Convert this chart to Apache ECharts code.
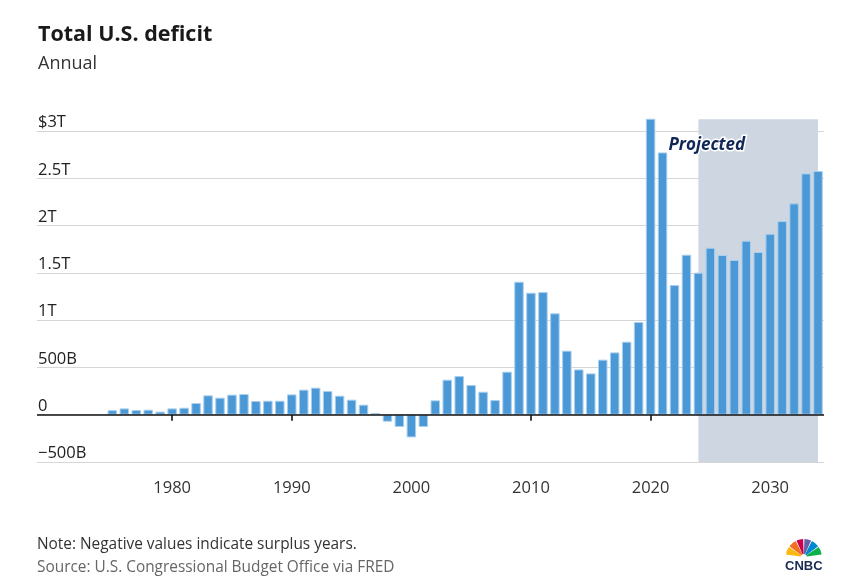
<!DOCTYPE html>
<html>
<head>
<meta charset="utf-8">
<script src="https://cdn.jsdelivr.net/npm/echarts@6/dist/echarts.min.js"></script>
<style>
  html, body { margin: 0; padding: 0; background: #fff; }
  #chart { width: 856px; height: 588px; }
</style>
</head>
<body>
<div id="chart"></div>
<script>
// ---- Data (billions of US dollars) ----
const years = [
  1975, 1976, 1977, 1978, 1979, 1980, 1981, 1982, 1983, 1984,
  1985, 1986, 1987, 1988, 1989, 1990, 1991, 1992, 1993, 1994,
  1995, 1996, 1997, 1998, 1999, 2000, 2001, 2002, 2003, 2004,
  2005, 2006, 2007, 2008, 2009, 2010, 2011, 2012, 2013, 2014,
  2015, 2016, 2017, 2018, 2019, 2020, 2021, 2022, 2023, 2024,
  2025, 2026, 2027, 2028, 2029, 2030, 2031, 2032, 2033, 2034
];
const deficit = [
  48, 67, 50, 53, 33, 67, 74, 124, 205, 180,
  212, 219, 145, 148, 148, 215, 265, 286, 250, 201,
  159, 106, 18, -74, -130, -240, -130, 152, 370, 409,
  314, 243, 155, 455, 1406, 1290, 1297, 1072, 677, 479,
  437, 582, 659, 772, 980, 3130, 2774, 1371, 1692, 1502,
  1766, 1689, 1636, 1840, 1720, 1914, 2048, 2235, 2552, 2577
];
const projectedStart = 2024;
const projectedEnd = 2034;
const projectedTop = 3125;
const xTickYears = [1980, 1990, 2000, 2010, 2020, 2030];
const yTickValues = [-500, 0, 500, 1000, 1500, 2000, 2500, 3000];
const yTickLabels = ['\u2212500B', '0', '500B', '1T', '1.5T', '2T', '2.5T', '$3T'];

const FONT = '"Open Sans", Lato, sans-serif';

const chart = echarts.init(document.getElementById('chart'), null, { renderer: 'canvas' });

const option = {
  backgroundColor: '#ffffff',
  animation: false,
  title: {
    text: 'Total U.S. deficit',
    subtext: 'Annual',
    left: 33,
    top: 19,
    itemGap: 9,
    textStyle: { fontFamily: FONT, fontSize: 21.5, fontWeight: 'bold', color: '#1a1a1a' },
    subtextStyle: { fontFamily: FONT, fontSize: 18, color: '#333333' }
  },
  grid: { left: 37, right: 32, top: 119.2, bottom: 126, containLabel: false },
  xAxis: {
    type: 'value',
    min: 1968.7,
    max: 2034.5,
    offset: 3,
    axisLine: { show: false },
    splitLine: { show: false },
    axisTick: {
      show: true,
      customValues: xTickYears,
      length: 6,
      lineStyle: { color: '#111', width: 1.6 }
    },
    axisLabel: {
      customValues: xTickYears,
      formatter: v => String(v),
      margin: 15,
      fontFamily: FONT,
      fontSize: 16.5,
      color: '#333'
    }
  },
  yAxis: {
    type: 'value',
    min: -500,
    max: projectedTop,
    interval: 500,
    axisLine: { show: false },
    axisTick: { show: false },
    splitLine: { show: true, showMaxLine: false, lineStyle: { color: '#d6d6d6', width: 1.2 } },
    axisLabel: {
      inside: true,
      margin: 1,
      verticalAlign: 'bottom',
      padding: [0, 0, 0, 0],
      fontFamily: FONT,
      fontSize: 16.5,
      color: '#222',
      formatter: v => {
        const i = yTickValues.indexOf(v);
        return i >= 0 ? yTickLabels[i] : '';
      }
    }
  },
  series: [{
    type: 'bar',
    clip: false,
    barWidth: 9.5,
    data: years.map((y, i) => [y, deficit[i]]),
    itemStyle: { color: '#4a98d6', borderColor: '#a9cfee', borderWidth: 1 },
    emphasis: { disabled: true },
    markArea: {
      silent: true,
      itemStyle: { color: '#cdd6e1' },
      label: {
        show: true,
        position: 'insideTopLeft',
        offset: [-35, 12],
        formatter: 'Projected',
        fontFamily: FONT,
        fontSize: 17,
        fontStyle: 'italic',
        fontWeight: 'bold',
        color: '#0f2657',
        textBorderColor: '#ffffff',
        textBorderWidth: 3
      },
      data: [[
        { xAxis: projectedStart, yAxis: -500 },
        { xAxis: projectedEnd, yAxis: projectedTop }
      ]]
    },
    markLine: {
      silent: true,
      symbol: ['none', 'none'],
      label: { show: false },
      lineStyle: { color: '#111', width: 1.5, type: 'solid' },
      data: [{ yAxis: 0 }]
    }
  }],
  graphic: [
    {
      type: 'text', left: 37, top: 537,
      style: { text: 'Note: Negative values indicate surplus years.', font: '15.4px ' + FONT, fill: '#333' }
    },
    {
      type: 'text', left: 37, top: 560,
      style: { text: 'Source: U.S. Congressional Budget Office via FRED', font: '15.4px ' + FONT, fill: '#666' }
    },
    {
      type: 'group', left: 785, top: 539,
      children: [
        { type: 'sector', shape: { cx: 20, cy: 19, r0: 3, r: 18, startAngle: -Math.PI * 172 / 180, endAngle: -Math.PI * 146 / 180 }, style: { fill: '#fcb711' } },
        { type: 'sector', shape: { cx: 20, cy: 19, r0: 3, r: 18, startAngle: -Math.PI * 143 / 180, endAngle: -Math.PI * 117 / 180 }, style: { fill: '#f37021' } },
        { type: 'sector', shape: { cx: 20, cy: 19, r0: 3, r: 18, startAngle: -Math.PI * 114 / 180, endAngle: -Math.PI * 92 / 180 }, style: { fill: '#cc004c' } },
        { type: 'sector', shape: { cx: 20, cy: 19, r0: 3, r: 18, startAngle: -Math.PI * 88 / 180, endAngle: -Math.PI * 66 / 180 }, style: { fill: '#6460aa' } },
        { type: 'sector', shape: { cx: 20, cy: 19, r0: 3, r: 18, startAngle: -Math.PI * 63 / 180, endAngle: -Math.PI * 37 / 180 }, style: { fill: '#0089d0' } },
        { type: 'sector', shape: { cx: 20, cy: 19, r0: 3, r: 18, startAngle: -Math.PI * 34 / 180, endAngle: -Math.PI * 8 / 180 }, style: { fill: '#0db14b' } },
        { type: 'text', x: 20, y: 22, style: { text: 'CNBC', font: 'bold 13px "Liberation Sans", Arial, sans-serif', fill: '#1b2a52', align: 'center', verticalAlign: 'top' } }
      ]
    }
  ]
};

chart.setOption(option);
</script>
</body>
</html>
